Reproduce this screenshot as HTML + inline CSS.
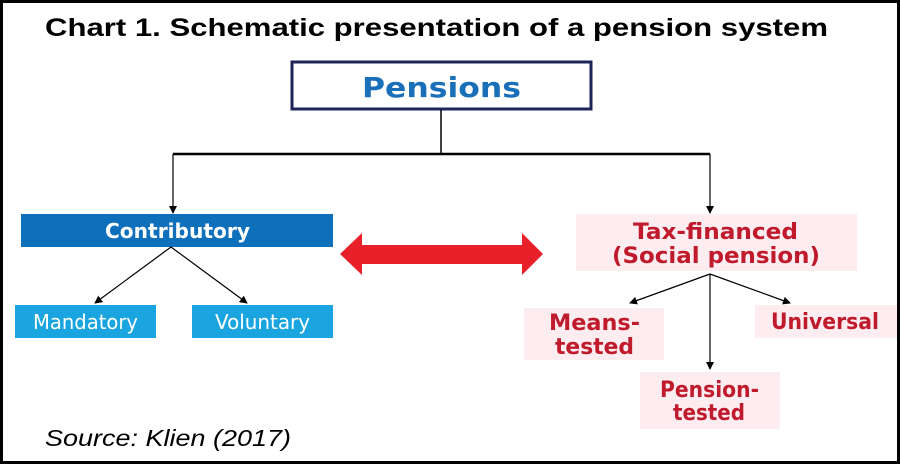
<!DOCTYPE html>
<html><head><meta charset="utf-8"><style>
html,body{margin:0;padding:0;background:#fff}
svg{display:block}
</style></head><body>
<svg width="900" height="464" viewBox="0 0 900 464" xmlns="http://www.w3.org/2000/svg" font-family="DejaVu Sans, Liberation Sans, sans-serif">
<defs>
<marker id="ah" markerWidth="8" markerHeight="8" refX="7" refY="4" orient="auto" markerUnits="userSpaceOnUse"><path d="M0,0 L8,4 L0,8 Z" fill="#000"/></marker>
</defs>
<rect x="1.5" y="1.5" width="897" height="461" fill="#fff" stroke="#000" stroke-width="3"/>
<text x="45" y="36" font-family="Liberation Sans, sans-serif" font-size="25" font-weight="bold" fill="#000" textLength="783" lengthAdjust="spacingAndGlyphs">Chart 1. Schematic presentation of a pension system</text>
<rect x="292" y="62" width="299" height="47" fill="#fff" stroke="#1f2458" stroke-width="3"/>
<text x="362" y="97" font-size="28" font-weight="bold" fill="#1a6fb9" textLength="159" lengthAdjust="spacingAndGlyphs">Pensions</text>
<line x1="441" y1="110" x2="441" y2="154" stroke="#000" stroke-width="1.5"/>
<line x1="173" y1="154" x2="710" y2="154" stroke="#000" stroke-width="2.5"/>
<line x1="173" y1="154" x2="173" y2="213" stroke="#000" stroke-width="1.2" marker-end="url(#ah)"/>
<line x1="710" y1="154" x2="710" y2="213" stroke="#000" stroke-width="1.2" marker-end="url(#ah)"/>
<rect x="21" y="214" width="312" height="33" fill="#0e6fba"/>
<text x="105" y="238" font-size="20" font-weight="bold" fill="#fff" textLength="145" lengthAdjust="spacingAndGlyphs">Contributory</text>
<line x1="171" y1="247" x2="95" y2="303" stroke="#000" stroke-width="1.2" marker-end="url(#ah)"/>
<line x1="171" y1="247" x2="247" y2="303" stroke="#000" stroke-width="1.2" marker-end="url(#ah)"/>
<rect x="15" y="305" width="141" height="33" fill="#1aa5e0"/>
<text x="33" y="329" font-size="20" fill="#fff" textLength="105" lengthAdjust="spacingAndGlyphs">Mandatory</text>
<rect x="192" y="305" width="141" height="33" fill="#1aa5e0"/>
<text x="215" y="329" font-size="20" fill="#fff" textLength="95" lengthAdjust="spacingAndGlyphs">Voluntary</text>
<path d="M340,254 L362,233 L362,245 L522,245 L522,233 L543,254 L522,275 L522,264 L362,264 L362,275 Z" fill="#e8202a"/>
<rect x="576" y="214" width="281" height="57" fill="#fdedf1"/>
<text x="633" y="239" font-size="22" font-weight="bold" fill="#c01b2c" textLength="165" lengthAdjust="spacingAndGlyphs">Tax-financed</text>
<text x="612" y="263" font-size="22" font-weight="bold" fill="#c01b2c" textLength="208" lengthAdjust="spacingAndGlyphs">(Social pension)</text>
<line x1="710" y1="274" x2="630" y2="303" stroke="#000" stroke-width="1.2" marker-end="url(#ah)"/>
<line x1="710" y1="274" x2="710" y2="369" stroke="#000" stroke-width="1.2" marker-end="url(#ah)"/>
<line x1="710" y1="274" x2="790" y2="303" stroke="#000" stroke-width="1.2" marker-end="url(#ah)"/>
<rect x="524" y="308" width="140" height="52" fill="#fdedf1"/>
<text x="549" y="330" font-size="22" font-weight="bold" fill="#c01b2c" textLength="91" lengthAdjust="spacingAndGlyphs">Means-</text>
<text x="555" y="354" font-size="22" font-weight="bold" fill="#c01b2c" textLength="79" lengthAdjust="spacingAndGlyphs">tested</text>
<rect x="755" y="305" width="142" height="33" fill="#fdedf1"/>
<text x="771" y="329" font-size="22" font-weight="bold" fill="#c01b2c" textLength="108" lengthAdjust="spacingAndGlyphs">Universal</text>
<rect x="640" y="372" width="140" height="57" fill="#fdedf1"/>
<text x="660" y="397" font-size="22" font-weight="bold" fill="#c01b2c" textLength="99" lengthAdjust="spacingAndGlyphs">Pension-</text>
<text x="673" y="420" font-size="22" font-weight="bold" fill="#c01b2c" textLength="72" lengthAdjust="spacingAndGlyphs">tested</text>
<text x="45" y="446" font-family="Liberation Sans, sans-serif" font-size="23" font-style="italic" fill="#000" textLength="246" lengthAdjust="spacingAndGlyphs">Source: Klien (2017)</text>
</svg>
</body></html>
